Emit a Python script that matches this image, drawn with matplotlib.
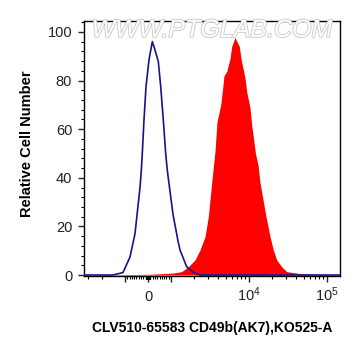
import matplotlib
matplotlib.use("Agg")
import matplotlib.pyplot as plt
import matplotlib.patheffects as pe
import numpy as np
from matplotlib.ticker import FixedLocator, MultipleLocator

plt.rcParams["font.family"] = ["Liberation Sans", "DejaVu Sans"]
plt.rcParams["mathtext.fontset"] = "custom"
plt.rcParams["mathtext.rm"] = "Liberation Sans"

# isotype control (blue outline)
ctrl_x = [-3400, -1426, -1062, -783, -565, -348, -291, -248, -174, -87, 43, 187,
          304, 448, 552, 665, 769, 839, 1060, 1229, 1304, 1589, 1914, 2238, 2354, 150000]
ctrl_y = [0, 0, 1, 7.4, 17, 36, 43, 50, 63.8, 77.5, 88.5, 96,
          92.6, 87.8, 77.5, 63.8, 50, 43, 25, 14, 10.3, 3.4, 1.2, 0.2, 0, 0]

# CD49b stained sample (red fill)
stain_x = [-3400, 87, 1060, 1371, 1666, 2030, 2353, 2728, 3007, 3324, 3664, 3887,
           4335, 4600, 4779, 5176, 5705, 5998, 6612, 7508, 7894, 8885, 9342,
           10297, 10827, 12100, 13100, 13831, 16512, 18583, 20485, 22646, 26254,
           30430, 45060, 81280, 150000]
stain_y = [0, 0.3, 0.8, 1.4, 3.4, 6.2, 10.3, 15.8, 24, 38, 51, 63,
           70, 77, 82, 83.7, 89, 94, 97.7, 94, 89, 81, 75.4,
           68.7, 61.7, 50, 45, 38, 24, 15.8, 10.3, 6.2, 3.4,
           1.4, 0.6, 0.2, 0]

x_major = [-1000, 0, 1000, 1e4, 1e5]
x_major_labels = ["", "0", "", r"$\mathregular{10^4}$", r"$\mathregular{10^5}$"]

# biexponential-like axis: linear near zero, log per decade beyond +/-T
T = 1000.0
L = 0.295


def fwd(x):
    x = np.asarray(x, dtype=float)
    a = np.abs(x)
    with np.errstate(divide="ignore", invalid="ignore"):
        out = np.where(a <= T, x / T * L, np.sign(x) * (L + np.log10(np.maximum(a, 1e-12) / T)))
    return out


def inv(y):
    y = np.asarray(y, dtype=float)
    a = np.abs(y)
    with np.errstate(over="ignore"):
        out = np.where(a <= L, y / L * T, np.sign(y) * T * 10 ** (np.minimum(a, 20) - L))
    return out


minor = ([-3000, -2000] + list(range(-900, 0, 100)) + list(range(-90, 0, 10))
         + list(range(10, 100, 10)) + list(range(100, 1000, 100))
         + list(range(2000, 10000, 1000)) + list(range(20000, 100000, 10000)))

fig = plt.figure(figsize=(3.61, 3.56), dpi=100)
ax = fig.add_axes([84 / 361, 1 - 276 / 356, 256 / 361, 255 / 356])
ax.set_xscale("function", functions=(fwd, inv))

ax.fill_between(stain_x, stain_y, color="#ff0000", lw=0, zorder=2)
ax.plot(ctrl_x, ctrl_y, color="#14148c", lw=1.2, zorder=3)

ax.set_xlim(-3354, 146700)
ax.set_ylim(-0.4, 104.5)

ax.xaxis.set_major_locator(FixedLocator(x_major))
ax.set_xticklabels(x_major_labels)
ax.xaxis.set_minor_locator(FixedLocator(minor))
ax.yaxis.set_major_locator(MultipleLocator(20))
ax.yaxis.set_minor_locator(MultipleLocator(4))

ax.tick_params(axis="both", which="major", direction="out", length=4.5, width=1,
               labelsize=10.5, colors="#222222")
ax.tick_params(axis="both", which="minor", direction="out", length=2.5, width=0.8)
ax.tick_params(axis="x", which="major", pad=13.5)
ax.tick_params(axis="y", which="major", pad=4)
for lab in ax.get_xticklabels():
    lab.set_va("baseline")

for s in ax.spines.values():
    s.set_linewidth(1.0)
    s.set_color("black")

ax.text(0.5, 0.965, "WWW.PTGLAB.COM", transform=ax.transAxes, ha="center", va="center",
        fontsize=18, style="italic", color="white", zorder=4,
        path_effects=[pe.Stroke(linewidth=1.2, foreground="#c8c8c8"), pe.Normal()])

fig.text(27 / 361, 1 - 143.5 / 356, "Relative Cell Number", rotation=90,
         ha="center", va="center", fontsize=10.5, fontweight="bold")
fig.text(212 / 361, 1 - 328 / 356, "CLV510-65583 CD49b(AK7),KO525-A",
         ha="center", va="center", fontsize=10, fontweight="bold")

fig.savefig("out.png", dpi=100)
